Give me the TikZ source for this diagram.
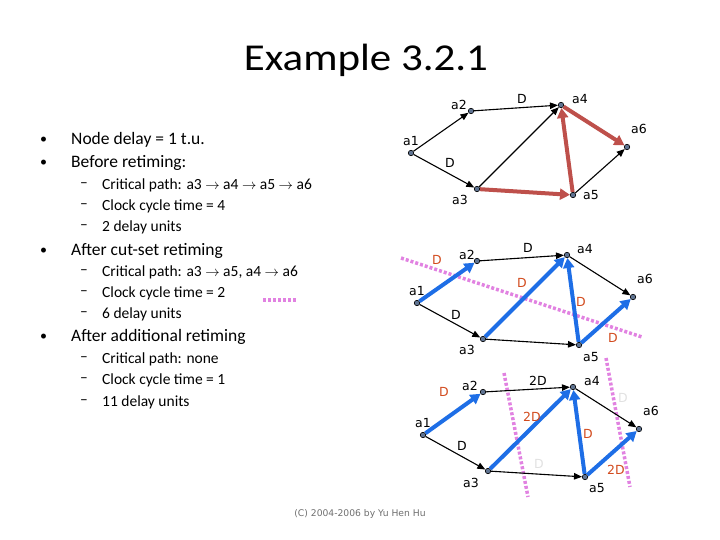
\documentclass[tikz,border=0pt]{standalone}
\usepackage{fontspec}
\setmainfont{Carlito}
\newfontfamily\gf{DejaVu Sans}
\usetikzlibrary{arrows.meta}
\definecolor{nodefill}{RGB}{95,115,145}
\definecolor{redc}{RGB}{190,80,75}
\definecolor{bluec}{RGB}{30,110,230}
\definecolor{orangec}{RGB}{210,75,30}
\definecolor{lightg}{RGB}{225,225,225}
\definecolor{pinkc}{RGB}{225,130,225}
\definecolor{copyc}{RGB}{110,110,110}
\tikzset{
  vtx/.style={circle, fill=nodefill, draw=black, line width=0.6pt, inner sep=0pt, minimum size=5.5pt},
  lbl/.style={font=\gf\fontsize{12.5}{15}\selectfont, inner sep=0pt},
  dlab/.style={lbl, text=orangec},
  glab/.style={lbl, text=lightg},
  blk/.style={draw=black, line width=1.1pt, -{Triangle[length=8pt,width=6.5pt]}},
  redarr/.style={draw=redc, line width=4pt, -{Triangle[length=10pt,width=11pt]}},
  bluarr/.style={draw=bluec, line width=4pt, -{Triangle[length=10pt,width=11pt]}},
  cutline/.style={draw=pinkc, line width=3.5pt, dash pattern=on 3pt off 2pt},
  bul/.style={anchor=west, inner sep=0pt, font=\fontsize{17.5}{20}\selectfont},
  bdot/.style={anchor=west, inner sep=0pt, font=\fontsize{14}{16}\selectfont},
  sub/.style={anchor=west, inner sep=0pt, font=\fontsize{15.5}{18}\selectfont},
}
\begin{document}
\begin{tikzpicture}[x=1pt,y=-1pt]
\useasboundingbox (0,0) rectangle (720,540);
% title
\node[inner sep=0pt, font=\fontsize{38}{44}\selectfont, xscale=1.13, transform shape] (title) at (366,60) {Example 3.2.1};
% bullets
\node[bdot] (b1) at (40,140) {\textbullet};
\node[bul] (t1) at (71,140) {Node delay = 1 t.u.};
\node[bdot] (b2) at (40,163) {\textbullet};
\node[bul] (t2) at (71,163) {Before retiming:};
\node[sub] (d1) at (80,185) {--};
\node[sub] (s1) at (102,185) {Critical path: a3 $\rightarrow$ a4 $\rightarrow$ a5 $\rightarrow$ a6};
\node[sub] (d2) at (80,206) {--};
\node[sub] (s2) at (102,206) {Clock cycle time = 4};
\node[sub] (d3) at (80,227) {--};
\node[sub] (s3) at (102,227) {2 delay units};
\node[bdot] (b3) at (40,251) {\textbullet};
\node[bul] (t3) at (71,251) {After cut-set retiming};
\node[sub] (d4) at (80,272) {--};
\node[sub] (s4) at (102,272) {Critical path: a3 $\rightarrow$ a5, a4 $\rightarrow$ a6};
\node[sub] (d5) at (80,293) {--};
\node[sub] (s5) at (102,293) {Clock cycle time = 2};
\node[sub] (d6) at (80,314) {--};
\node[sub] (s6) at (102,314) {6 delay units};
\node[bdot] (b4) at (40,337) {\textbullet};
\node[bul] (t4) at (71,337) {After additional retiming};
\node[sub] (d7) at (80,359) {--};
\node[sub] (s7) at (102,359) {Critical path: none};
\node[sub] (d8) at (80,380) {--};
\node[sub] (s8) at (102,380) {Clock cycle time = 1};
\node[sub] (d9) at (80,402) {--};
\node[sub] (s9) at (102,402) {11 delay units};
\coordinate (lg1) at (263,300);
\coordinate (lg2) at (297,300);
\draw[cutline] (lg1) -- (lg2);
% copyright
\node[inner sep=0pt, text=copyc, font=\gf\fontsize{9.2}{11}\selectfont] (copy) at (360,514) {(C) 2004-2006 by Yu Hen Hu};

% ===== graph 1 =====
\node[vtx] (A1) at (411,153) {};
\node[vtx] (A2) at (471,111) {};
\node[vtx] (A4) at (561,105) {};
\node[vtx] (A6) at (627,147) {};
\node[vtx] (A3) at (477,189) {};
\node[vtx] (A5) at (573,195) {};
\draw[blk] (A1) -- (A2);
\draw[blk] (A2) -- (A4);
\draw[blk] (A1) -- (A3);
\draw[blk] (A3) -- (A4);
\draw[blk] (A5) -- (A6);
\draw[redarr] (A3) -- (A5);
\draw[redarr] (A5) -- (A4);
\draw[redarr] (A4) -- (A6);
\node[lbl] (LA2) at (459,105) {a2};
\node[lbl] (LD1) at (522,99) {D};
\node[lbl] (LA4) at (580,99) {a4};
\node[lbl] (LA6) at (639,129) {a6};
\node[lbl] (LA1) at (411,141) {a1};
\node[lbl] (LD2) at (450,163) {D};
\node[lbl] (LA3) at (460,200) {a3};
\node[lbl] (LA5) at (591,195) {a5};

% ===== graph 2 =====
\draw[cutline] (401,258) -- (642,337);
\node[vtx] (B1) at (417,303) {};
\node[vtx] (B2) at (477,261) {};
\node[vtx] (B4) at (567,255) {};
\node[vtx] (B6) at (633,297) {};
\node[vtx] (B3) at (483,339) {};
\node[vtx] (B5) at (579,345) {};
\draw[blk] (B2) -- (B4);
\draw[blk] (B1) -- (B3);
\draw[blk] (B3) -- (B5);
\draw[blk] (B4) -- (B6);
\draw[bluarr] (B1) -- (B2);
\draw[bluarr] (B3) -- (B4);
\draw[bluarr] (B5) -- (B4);
\draw[bluarr] (B5) -- (B6);
\node[lbl] (LB2) at (467,255) {a2};
\node[lbl] (LBD1) at (528,248) {D};
\node[lbl] (LB4) at (585,249) {a4};
\node[lbl] (LB6) at (645,279) {a6};
\node[lbl] (LB1) at (417,291) {a1};
\node[lbl] (LBD2) at (456,315) {D};
\node[lbl] (LB3) at (467,350) {a3};
\node[lbl] (LB5) at (591,357) {a5};
\node[dlab] (OB1) at (437,260) {D};
\node[dlab] (OB2) at (522,283) {D};
\node[dlab] (OB3) at (581,302) {D};
\node[dlab] (OB4) at (613,338) {D};

% ===== graph 3 =====
\draw[cutline] (504,373) -- (528,497);
\draw[cutline] (606,358) -- (630,487);
\node[vtx] (C1) at (423,435) {};
\node[vtx] (C2) at (483,392) {};
\node[vtx] (C4) at (573,387) {};
\node[vtx] (C6) at (639,429) {};
\node[vtx] (C3) at (488,471) {};
\node[vtx] (C5) at (585,477) {};
\draw[blk] (C2) -- (C4);
\draw[blk] (C1) -- (C3);
\draw[blk] (C3) -- (C5);
\draw[blk] (C4) -- (C6);
\draw[bluarr] (C1) -- (C2);
\draw[bluarr] (C3) -- (C4);
\draw[bluarr] (C5) -- (C4);
\draw[bluarr] (C5) -- (C6);
\node[lbl] (LC2) at (470,386) {a2};
\node[lbl] (LCD1) at (538,381) {2D};
\node[lbl] (LC4) at (592,381) {a4};
\node[lbl] (LC6) at (651,411) {a6};
\node[lbl] (LC1) at (423,423) {a1};
\node[lbl] (LCD2) at (462,446) {D};
\node[lbl] (LC3) at (471,483) {a3};
\node[lbl] (LC5) at (597,488) {a5};
\node[dlab] (OC1) at (444,392) {D};
\node[dlab] (OC2) at (532,417) {2D};
\node[dlab] (OC3) at (588,434) {D};
\node[dlab] (OC4) at (616,470) {2D};
\node[glab] (GC1) at (623,398) {D};
\node[glab] (GC2) at (539,464) {D};
\end{tikzpicture}
\end{document}
